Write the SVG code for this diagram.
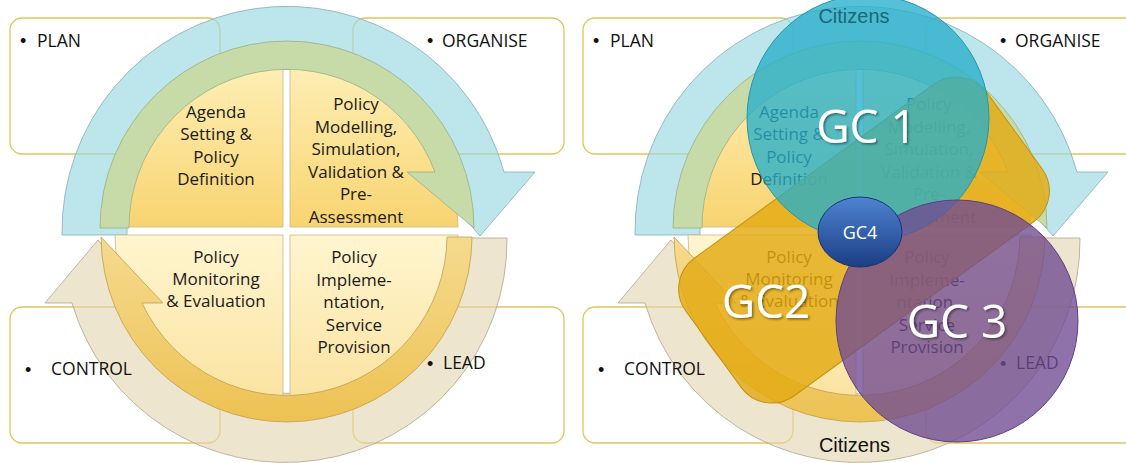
<svg xmlns="http://www.w3.org/2000/svg" width="1126" height="463" viewBox="0 0 1126 463">
<defs>
<style>
.box{fill:#fff;stroke:#E2C55A;stroke-width:1.3}
.blue{fill:#9ED9E3;fill-opacity:.68;stroke:#86AEB6;stroke-width:.8}
.tan{fill:#E3D5B0;fill-opacity:.62;stroke:#AFA690;stroke-width:.8}
.green{fill:#C6DBA8;stroke:#98B086;stroke-width:.8}
.gold{fill:url(#gGold);stroke:#BFA050;stroke-width:.8}
.qa{fill:url(#gQ1);stroke:#C9B88C;stroke-width:.8}
.qb{fill:url(#gQ2);stroke:#C9B88C;stroke-width:.8}
.lbl{font-family:"Open Sans","DejaVu Sans",sans-serif;font-size:17.5px;fill:#111}
.bul{font-family:"Liberation Sans",Arial,sans-serif;font-size:18px;fill:#111}
.qt{font-family:"Open Sans","DejaVu Sans",sans-serif;font-size:17px;fill:#1a1a1a;text-anchor:middle}
.gc{font-family:"Open Sans","DejaVu Sans",sans-serif;font-size:46px;fill:#fff;text-anchor:middle;filter:url(#ts)}
.cit{font-family:"Liberation Sans",Arial,sans-serif;font-size:20px;text-anchor:middle}
</style>
<linearGradient id="gQ1" x1="0" y1="0" x2="0" y2="1"><stop offset="0" stop-color="#FEF0B8"/><stop offset="1" stop-color="#F8D470"/></linearGradient>
<linearGradient id="gQ2" x1="0" y1="0" x2="0" y2="1"><stop offset="0" stop-color="#FFF5CF"/><stop offset="1" stop-color="#FBE3A0"/></linearGradient>
<linearGradient id="gGold" x1="0" y1="0" x2="0" y2="1"><stop offset="0" stop-color="#F5DA8F"/><stop offset="1" stop-color="#EDC253"/></linearGradient>
<linearGradient id="gGC4" x1="0" y1="0" x2="0" y2="1"><stop offset="0" stop-color="#4F84D2"/><stop offset="1" stop-color="#1B3D84"/></linearGradient>
<filter id="ts" x="-20%" y="-20%" width="140%" height="140%"><feDropShadow dx="1.5" dy="1.5" stdDeviation="1.2" flood-color="#000" flood-opacity=".45"/></filter>
</defs>
<rect width="1126" height="463" fill="#fff"/>

<g id="left-diagram">
  <g id="L-box-plan"><rect class="box" x="10" y="18" width="210" height="136" rx="12"/></g>
  <g id="L-box-organise"><rect class="box" x="353" y="18" width="211" height="136" rx="12"/></g>
  <g id="L-box-control"><rect class="box" x="10" y="307" width="210" height="136" rx="12"/></g>
  <g id="L-box-lead"><rect class="box" x="353" y="307" width="211" height="136" rx="12"/></g>
  <g id="L-connectors">
    <path class="blue" d="M127,235 L62,235 A225 225 0 0 1 504,172 L535,172 L480,236 L425,172 L438,172 A161 161 0 0 0 127,235 Z"/>
    <path class="tan" d="M507,238 A222 222 0 0 1 72,303 L45,303 L98,240 L151,303 L141,303 A160 160 0 0 0 445,238 Z"/>
  </g>
  <g id="L-q-agenda"><path class="qa" d="M283,227 L283,59 A168 168 0 0 0 115,227 Z"/></g>
  <g id="L-q-modelling"><path class="qa" d="M290,227 L458,227 A168 168 0 0 0 290,59 Z"/></g>
  <g id="L-q-monitoring"><path class="qb" d="M283,235 L115,235 A168 168 0 0 0 283,403 Z"/></g>
  <g id="L-q-implementation"><path class="qb" d="M290,235 L290,403 A168 168 0 0 0 458,235 Z"/></g>
  <g id="L-connectors-inner">
    <path class="green" d="M129,228 L100,228 A187 187 0 0 1 287,41 A187 187 0 0 1 474,228 L407,172 L435,172 A158 158 0 0 0 129,228 Z"/>
    <path class="gold" d="M447,237 L472,237 A186 186 0 0 1 287,422 A186 186 0 0 1 101,237 L163,303 L142,303 A160 160 0 0 0 447,237 Z"/>
  </g>
  <g id="L-labels">
    <text class="bul" x="20" y="47">•</text><text class="lbl" x="37" y="46.5">PLAN</text>
    <text class="bul" x="427" y="47">•</text><text class="lbl" x="442" y="46.5">ORGANISE</text>
    <text class="bul" x="25" y="375.5">•</text><text class="lbl" x="51" y="375">CONTROL</text>
    <text class="bul" x="427" y="369.5">•</text><text class="lbl" x="443" y="369">LEAD</text>
  </g>
  <g id="L-qtext">
    <text class="qt" x="216" y="118">Agenda</text>
    <text class="qt" x="216" y="140">Setting &amp;</text>
    <text class="qt" x="216" y="163">Policy</text>
    <text class="qt" x="216" y="185">Definition</text>
    <text class="qt" x="356" y="110">Policy</text>
    <text class="qt" x="356" y="132.6">Modelling,</text>
    <text class="qt" x="356" y="155.2">Simulation,</text>
    <text class="qt" x="356" y="177.8">Validation &amp;</text>
    <text class="qt" x="356" y="200.4">Pre-</text>
    <text class="qt" x="356" y="223">Assessment</text>
    <text class="qt" x="216" y="263">Policy</text>
    <text class="qt" x="216" y="285">Monitoring</text>
    <text class="qt" x="216" y="307">&amp; Evaluation</text>
    <text class="qt" x="354" y="263">Policy</text>
    <text class="qt" x="354" y="285.5">Impleme-</text>
    <text class="qt" x="354" y="308">ntation,</text>
    <text class="qt" x="354" y="330.5">Service</text>
    <text class="qt" x="354" y="353">Provision</text>
  </g>
</g>

<g id="right-diagram" transform="translate(573,0)">
  <g id="R-box-plan"><rect class="box" x="10" y="18" width="210" height="136" rx="12"/></g>
  <g id="R-box-organise"><rect class="box" x="353" y="18" width="211" height="136" rx="12"/></g>
  <g id="R-box-control"><rect class="box" x="10" y="307" width="210" height="136" rx="12"/></g>
  <g id="R-box-lead"><rect class="box" x="353" y="307" width="211" height="136" rx="12"/></g>
  <g id="R-connectors">
    <path class="blue" d="M127,235 L62,235 A225 225 0 0 1 504,172 L535,172 L480,236 L425,172 L438,172 A161 161 0 0 0 127,235 Z"/>
    <path class="tan" d="M507,238 A222 222 0 0 1 72,303 L45,303 L98,240 L151,303 L141,303 A160 160 0 0 0 445,238 Z"/>
  </g>
  <g id="R-q-agenda"><path class="qa" d="M283,227 L283,59 A168 168 0 0 0 115,227 Z"/></g>
  <g id="R-q-modelling"><path class="qa" d="M290,227 L458,227 A168 168 0 0 0 290,59 Z"/></g>
  <g id="R-q-monitoring"><path class="qb" d="M283,235 L115,235 A168 168 0 0 0 283,403 Z"/></g>
  <g id="R-q-implementation"><path class="qb" d="M290,235 L290,403 A168 168 0 0 0 458,235 Z"/></g>
  <g id="R-connectors-inner">
    <path class="green" d="M129,228 L100,228 A187 187 0 0 1 287,41 A187 187 0 0 1 474,228 L407,172 L435,172 A158 158 0 0 0 129,228 Z"/>
    <path class="gold" d="M447,237 L472,237 A186 186 0 0 1 287,422 A186 186 0 0 1 101,237 L163,303 L142,303 A160 160 0 0 0 447,237 Z"/>
  </g>
  <g id="R-labels">
    <text class="bul" x="20" y="47">•</text><text class="lbl" x="37" y="46.5">PLAN</text>
    <text class="bul" x="427" y="47">•</text><text class="lbl" x="442" y="46.5">ORGANISE</text>
    <text class="bul" x="25" y="375.5">•</text><text class="lbl" x="51" y="375">CONTROL</text>
    <text class="bul" x="427" y="369.5">•</text><text class="lbl" x="443" y="369">LEAD</text>
    <text class="cit" x="281.5" y="452" fill="#111">Citizens</text>
  </g>
  <g id="R-qtext">
    <text class="qt" x="216" y="118">Agenda</text>
    <text class="qt" x="216" y="140">Setting &amp;</text>
    <text class="qt" x="216" y="163">Policy</text>
    <text class="qt" x="216" y="185">Definition</text>
    <text class="qt" x="356" y="110">Policy</text>
    <text class="qt" x="356" y="132.6">Modelling,</text>
    <text class="qt" x="356" y="155.2">Simulation,</text>
    <text class="qt" x="356" y="177.8">Validation &amp;</text>
    <text class="qt" x="356" y="200.4">Pre-</text>
    <text class="qt" x="356" y="223">Assessment</text>
    <text class="qt" x="216" y="263">Policy</text>
    <text class="qt" x="216" y="285">Monitoring</text>
    <text class="qt" x="216" y="307">&amp; Evaluation</text>
    <text class="qt" x="354" y="263">Policy</text>
    <text class="qt" x="354" y="285.5">Impleme-</text>
    <text class="qt" x="354" y="308">ntation,</text>
    <text class="qt" x="354" y="330.5">Service</text>
    <text class="qt" x="354" y="353">Provision</text>
  </g>
</g>

<g id="GC2">
  <rect x="-186" y="-85" width="372" height="170" rx="38" transform="translate(864,240) rotate(-36)" fill="#E3AA12" fill-opacity=".82" stroke="#C4920F" stroke-width="1"/>
  <text class="gc" x="766" y="318">GC2</text>
</g>
<g id="GC1">
  <ellipse cx="868" cy="118" rx="121" ry="123" fill="#26AFCB" fill-opacity=".78" stroke="#2596AE" stroke-width="1"/>
  <text class="cit" x="854" y="23" fill="#1F6676">Citizens</text>
  <text class="gc" x="866.5" y="143">GC 1</text>
</g>
<g id="GC3">
  <circle cx="957" cy="321" r="121" fill="#704A92" fill-opacity=".78" stroke="#5E3F80" stroke-width="1"/>
  <text class="gc" x="957" y="338">GC 3</text>
</g>
<g id="GC4">
  <ellipse cx="860" cy="232" rx="42" ry="35" fill="url(#gGC4)" stroke="#1A3570" stroke-width="1"/>
  <text x="860" y="239" font-family="'Open Sans','DejaVu Sans',sans-serif" font-size="18" fill="#fff" text-anchor="middle">GC4</text>
</g>
</svg>
